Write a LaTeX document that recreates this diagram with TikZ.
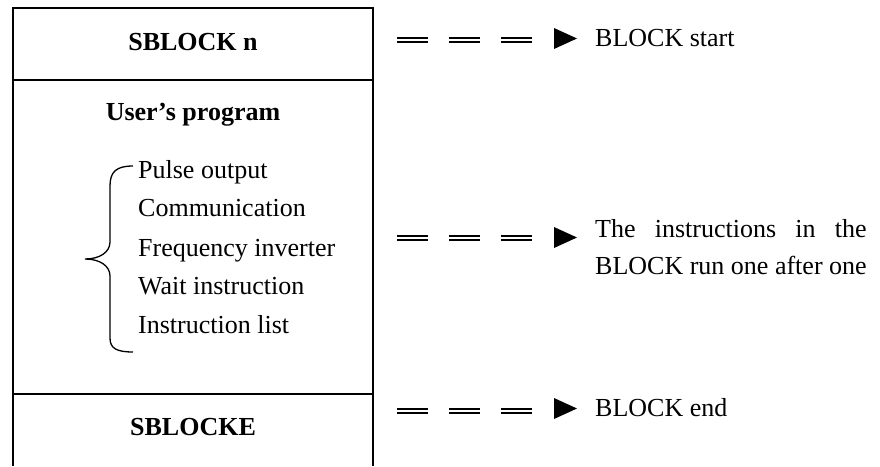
\documentclass[tikz,border=0pt]{standalone}
\usepackage{fontspec}
\setmainfont{Liberation Serif}
\newlength{\rowlen}
\begin{document}
\begin{tikzpicture}[x=1pt,y=-1pt,
  frame/.style={line width=1.6pt},
  title/.style={font=\fontsize{26}{30}\selectfont\bfseries, anchor=base, inner sep=0pt},
  item/.style={font=\fontsize{26}{30}\selectfont, anchor=base west, inner sep=0pt},
  lbl/.style={font=\fontsize{26}{37}\selectfont, anchor=base west, inner sep=0pt, align=left},
  dbl/.style={line width=1.5pt, double, double distance=2.4pt, dash pattern=on 30.5pt off 21.5pt},
  tri/.style={fill=black},
  bracepath/.style={line width=1.3pt}]
\useasboundingbox (0,0) rectangle (880,466);
% frame
\draw[frame] (13,466) -- (13,8) -- (373,8) -- (373,466);
\draw[frame] (13,80) -- (373,80);
\draw[frame] (13,394) -- (373,394);
% left texts
\node[title] (sb) at (193,50) {SBLOCK n};
\node[title] (up) at (193,120) {User’s program};
\node[item] (i1) at (138,178) {Pulse output};
\node[item] (i2) at (138,216) {Communication};
\node[item] (i3) at (138,256) {Frequency inverter};
\node[item] (i4) at (138,294) {Wait instruction};
\node[item] (i5) at (138,333) {Instruction list};
\node[title] (se) at (193,435) {SBLOCKE};
% brace
\draw[bracepath] (133,166) .. controls (116,166) and (110,172) .. (110,186) -- (110,242)
  .. controls (110,252) and (100,259) .. (85,259)
  .. controls (100,259) and (110,266) .. (110,276) -- (110,338)
  .. controls (110,348) and (116,352) .. (133,352);
% right labels
\node[lbl] (l1) at (595,46) {BLOCK start};
\node[lbl] (l2) at (595,274) {\settowidth{\rowlen}{BLOCK run one after one}\makebox[\rowlen][s]{The instructions in the}\\BLOCK run one after one};
\node[lbl] (l3) at (595,416) {BLOCK end};
% connectors
\coordinate (s1) at (397,40);
\coordinate (s2) at (397,238);
\coordinate (s3) at (397,411);
\draw[dbl] (s1) -- ++(135,0);
\draw[dbl] (s2) -- ++(135,0);
\draw[dbl] (s3) -- ++(135,0);
\fill[tri] (554,28) -- (577,38.5) -- (554,49) -- cycle;
\fill[tri] (554,227) -- (577,237.5) -- (554,248) -- cycle;
\fill[tri] (554,398) -- (577,408.5) -- (554,419) -- cycle;
\end{tikzpicture}
\end{document}
